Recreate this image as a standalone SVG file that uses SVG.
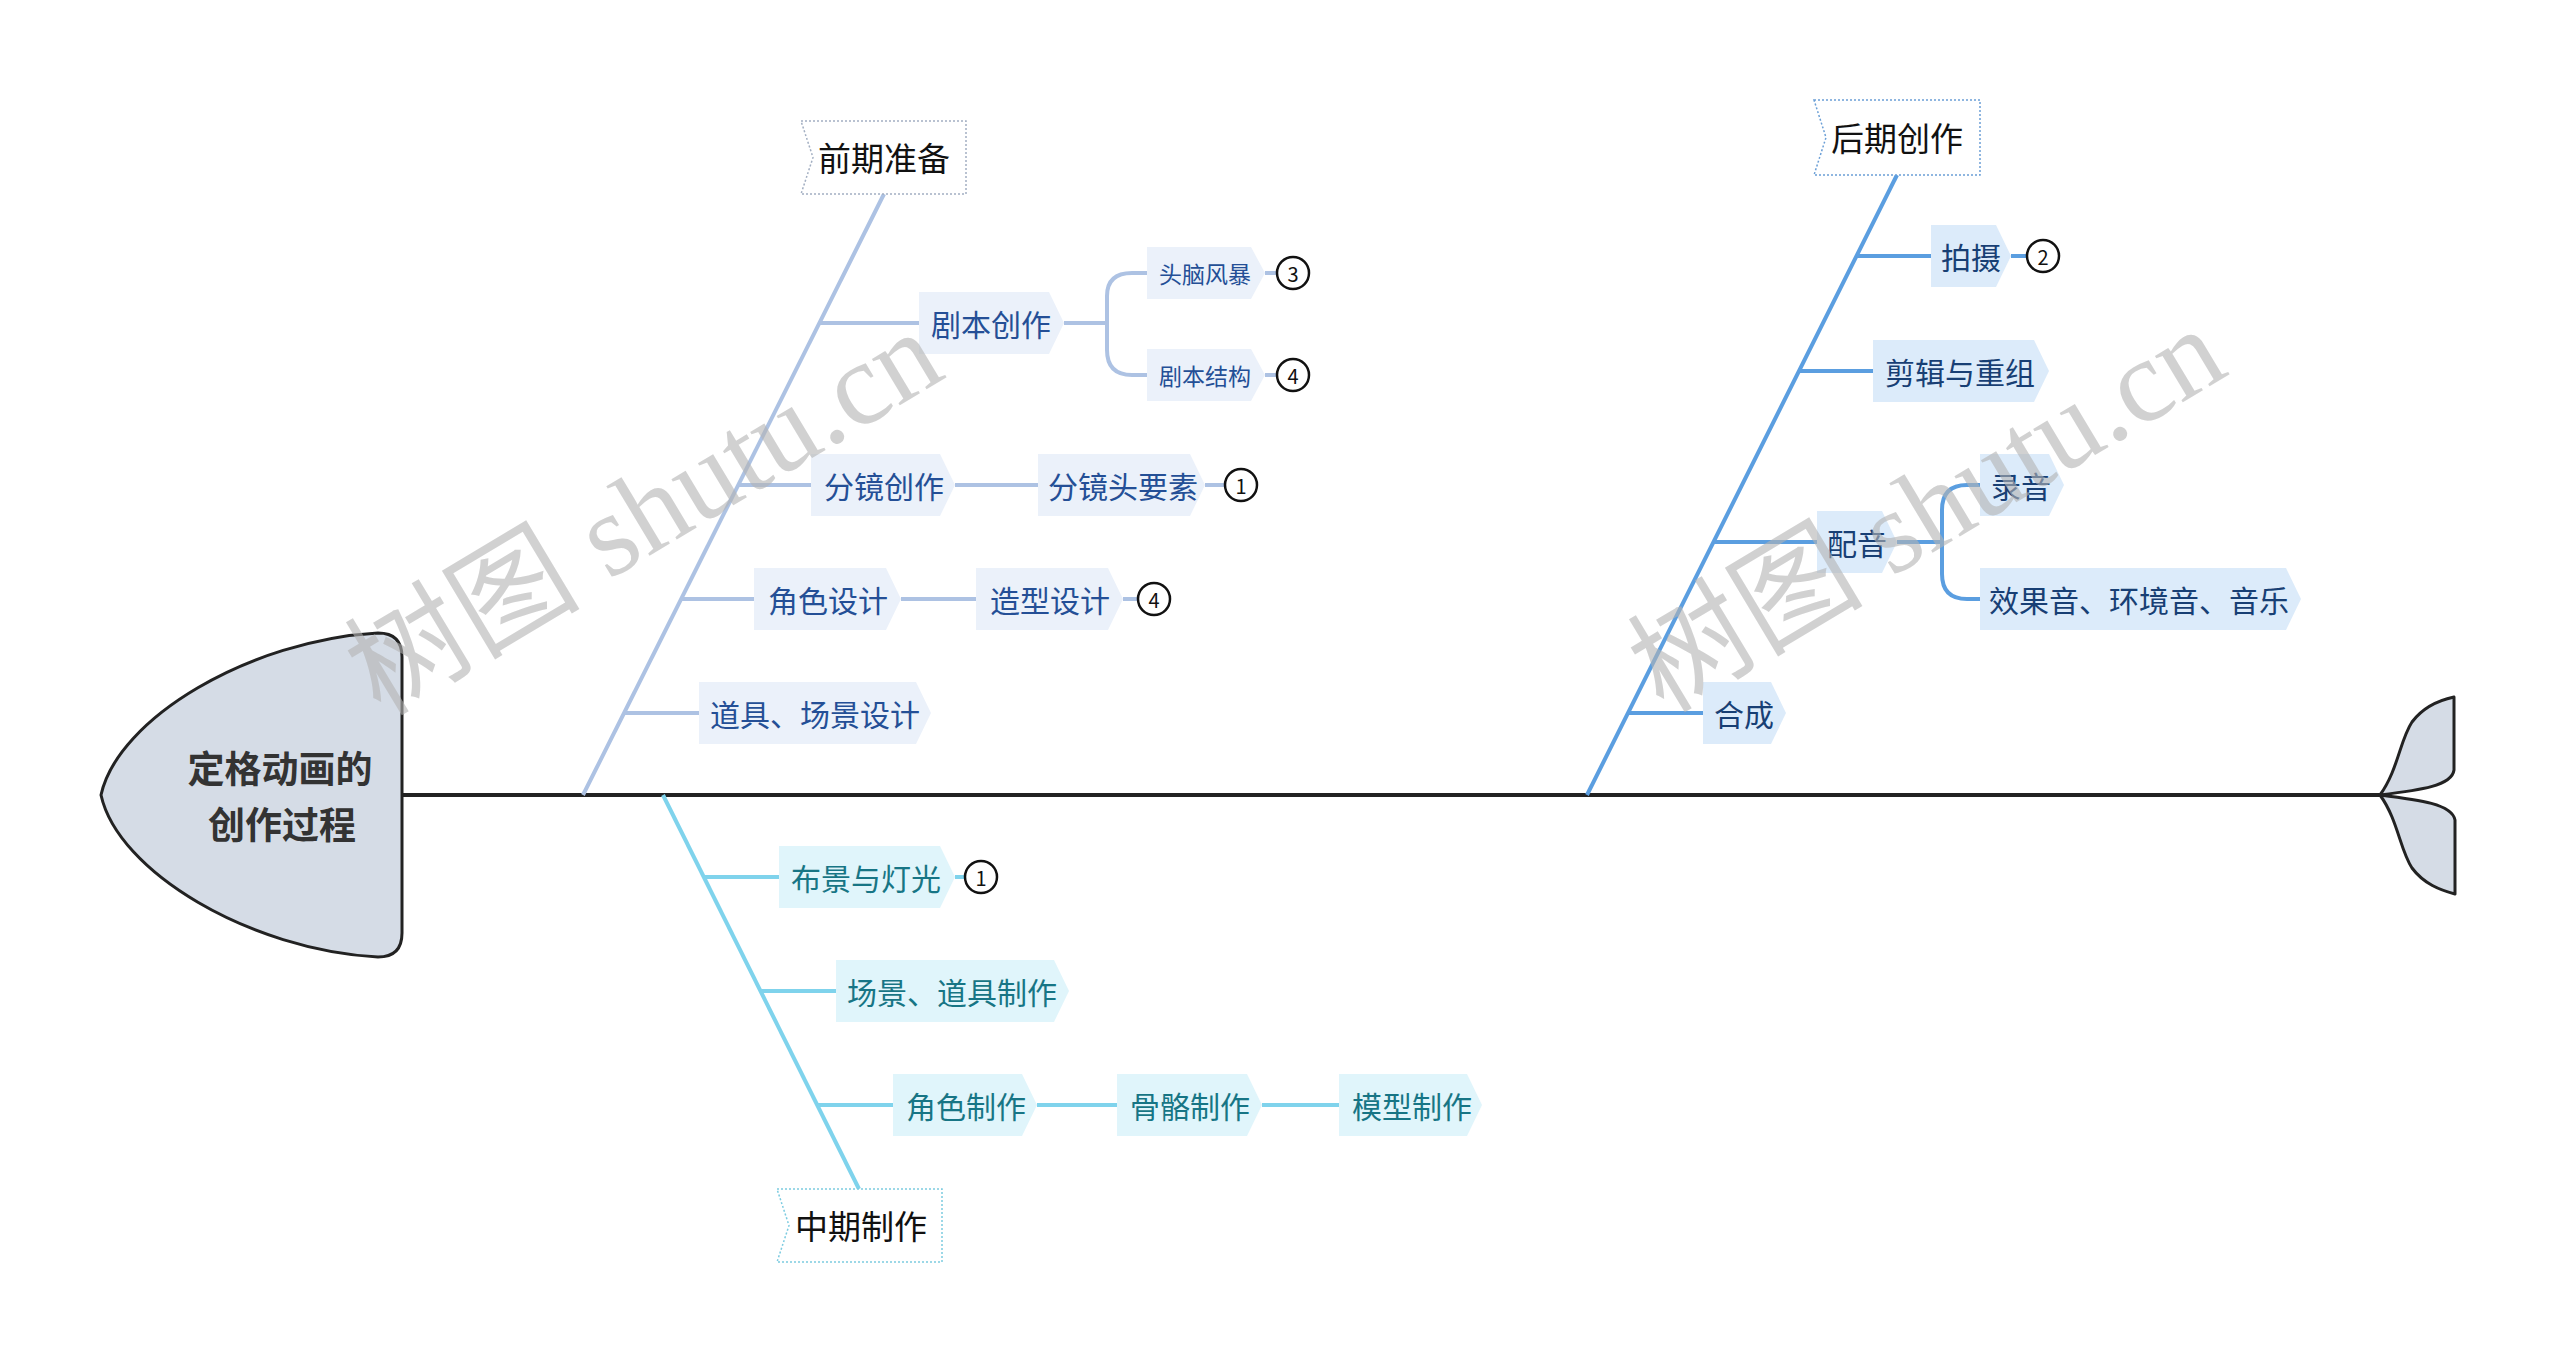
<svg xmlns="http://www.w3.org/2000/svg" width="2560" height="1364" viewBox="0 0 2560 1364">
<style>
text{font-family:"Noto Sans CJK SC","Noto Sans",sans-serif;dominant-baseline:central;text-anchor:middle}
.spine{stroke:#222;stroke-width:4;fill:none}
.fish{fill:#d5dce6;stroke:#222;stroke-width:3;stroke-linejoin:round}
.lA{stroke:#adc2e3;stroke-width:4;fill:none}
.lB{stroke:#7fd3ec;stroke-width:4;fill:none}
.lC{stroke:#5b9ee0;stroke-width:4;fill:none}
.bA{fill:#ebf1fa}
.bB{fill:#e0f5fb}
.bC{fill:#dcebfa}
.tA{fill:#244f96;font-size:30px}
.tB{fill:#177585;font-size:30px}
.tC{fill:#183f74;font-size:30px}
.sA{fill:#244f96;font-size:23px}
.lab{fill:#fff;stroke-width:1.5;stroke-dasharray:2 2}
.labT{fill:#111;font-size:33px}
.num circle{fill:#fff;stroke:#111;stroke-width:2.5}
.num text{fill:#111;font-size:20px}
.wm{fill:#b4b4b4;opacity:0.6;font-family:"Liberation Serif","Noto Sans CJK SC",serif;font-size:118px}
</style>

<g id="connectors">
  <line class="spine" x1="400" y1="795" x2="2382" y2="795"/>
  <!-- upper left -->
  <line class="lA" x1="583" y1="795" x2="884" y2="194" stroke-width="5"/>
  <line class="lA" x1="819" y1="323" x2="919" y2="323"/>
  <line class="lA" x1="1064" y1="323" x2="1107" y2="323"/>
  <path class="lA" d="M1107,323 V296 Q1107,273 1132,273 H1148 M1107,323 V350 Q1107,375 1132,375 H1148"/>
  <line class="lA" x1="1265" y1="273" x2="1277" y2="273"/>
  <line class="lA" x1="1265" y1="375" x2="1277" y2="375"/>
  <line class="lA" x1="738" y1="485" x2="811" y2="485"/>
  <line class="lA" x1="955" y1="485" x2="1038" y2="485"/>
  <line class="lA" x1="1205" y1="485" x2="1225" y2="485"/>
  <line class="lA" x1="681" y1="599" x2="754" y2="599"/>
  <line class="lA" x1="901" y1="599" x2="976" y2="599"/>
  <line class="lA" x1="1123" y1="599" x2="1138" y2="599"/>
  <line class="lA" x1="624" y1="713" x2="699" y2="713"/>
  <!-- lower -->
  <line class="lB" x1="663" y1="795" x2="859" y2="1189" stroke-width="5"/>
  <line class="lB" x1="704" y1="877" x2="779" y2="877"/>
  <line class="lB" x1="955" y1="877" x2="965" y2="877"/>
  <line class="lB" x1="760" y1="991" x2="836" y2="991"/>
  <line class="lB" x1="817" y1="1105" x2="893" y2="1105"/>
  <line class="lB" x1="1037" y1="1105" x2="1117" y2="1105"/>
  <line class="lB" x1="1262" y1="1105" x2="1339" y2="1105"/>
  <!-- upper right -->
  <line class="lC" x1="1587" y1="795" x2="1897" y2="175" stroke-width="5"/>
  <line class="lC" x1="1856" y1="256" x2="1931" y2="256"/>
  <line class="lC" x1="2011" y1="256" x2="2027" y2="256"/>
  <line class="lC" x1="1799" y1="371" x2="1873" y2="371"/>
  <line class="lC" x1="1713" y1="542" x2="1817" y2="542"/>
  <line class="lC" x1="1897" y1="542" x2="1942" y2="542"/>
  <path class="lC" d="M1942,542 V510 Q1942,485 1967,485 H1980 M1942,542 V574 Q1942,599 1967,599 H1980"/>
  <line class="lC" x1="1628" y1="713" x2="1703" y2="713"/>
</g>

<g id="head">
  <path class="fish" d="M378,633 Q402,633 402,657 L402,933 Q402,957 378,957 C250,950 118,872 101,795 C118,718 250,640 378,633 Z"/>
  <text x="280" y="767" style="font-size:37px;font-weight:bold;fill:#333">定格动画的</text>
  <text x="282" y="823" style="font-size:37px;font-weight:bold;fill:#333">创作过程</text>
</g>

<g id="tail">
  <path class="fish" d="M2380,795 C2398,770 2400,740 2412,722 C2424,706 2440,700 2454,697 L2454,770 C2452,786 2420,790 2380,795 Z"/>
  <path class="fish" d="M2380,795 C2398,820 2400,850 2412,868 C2424,884 2440,890 2455,894 L2455,820 C2452,804 2420,800 2380,795 Z"/>
</g>

<g id="n-qianqi">
  <path class="lab" stroke="#a3afc2" d="M801,121 H966 V194 H801 L813,157.5 Z"/>
  <text class="labT" x="884" y="157">前期准备</text>
</g>
<g id="n-juben">
  <path class="bA" d="M919,292 H1049 L1064,323 L1049,354 H919 Z"/>
  <text class="tA" x="991" y="323">剧本创作</text>
</g>
<g id="n-naofeng">
  <path class="bA" d="M1147,247 H1251 L1265,273 L1251,299 H1147 Z"/>
  <text class="sA" x="1205" y="273">头脑风暴</text>
  <g class="num"><circle cx="1293" cy="273" r="16"/><text x="1293" y="273">3</text></g>
</g>
<g id="n-jiegou">
  <path class="bA" d="M1147,349 H1251 L1265,375 L1251,401 H1147 Z"/>
  <text class="sA" x="1205" y="375">剧本结构</text>
  <g class="num"><circle cx="1293" cy="375" r="16"/><text x="1293" y="375">4</text></g>
</g>
<g id="n-fenjing">
  <path class="bA" d="M811,454 H940 L955,485 L940,516 H811 Z"/>
  <text class="tA" x="884" y="485">分镜创作</text>
</g>
<g id="n-fenjingtou">
  <path class="bA" d="M1038,454 H1190 L1205,485 L1190,516 H1038 Z"/>
  <text class="tA" x="1123" y="485">分镜头要素</text>
  <g class="num"><circle cx="1241" cy="485" r="16"/><text x="1241" y="485">1</text></g>
</g>
<g id="n-jiaose">
  <path class="bA" d="M754,568 H886 L901,599 L886,630 H754 Z"/>
  <text class="tA" x="828" y="599">角色设计</text>
</g>
<g id="n-zaoxing">
  <path class="bA" d="M976,568 H1108 L1123,599 L1108,630 H976 Z"/>
  <text class="tA" x="1050" y="599">造型设计</text>
  <g class="num"><circle cx="1154" cy="599" r="16"/><text x="1154" y="599">4</text></g>
</g>
<g id="n-daoju">
  <path class="bA" d="M699,682 H916 L931,713 L916,744 H699 Z"/>
  <text class="tA" x="815" y="713">道具、场景设计</text>
</g>

<g id="n-zhongqi">
  <path class="lab" stroke="#7ccbe0" d="M777,1189 H942 V1262 H777 L789,1225.5 Z"/>
  <text class="labT" x="861" y="1225">中期制作</text>
</g>
<g id="n-bujing">
  <path class="bB" d="M779,846 H940 L955,877 L940,908 H779 Z"/>
  <text class="tB" x="866" y="877">布景与灯光</text>
  <g class="num"><circle cx="981" cy="877" r="16"/><text x="981" y="877">1</text></g>
</g>
<g id="n-changjing">
  <path class="bB" d="M836,960 H1054 L1069,991 L1054,1022 H836 Z"/>
  <text class="tB" x="952" y="991">场景、道具制作</text>
</g>
<g id="n-jszz">
  <path class="bB" d="M893,1074 H1022 L1037,1105 L1022,1136 H893 Z"/>
  <text class="tB" x="966" y="1105">角色制作</text>
</g>
<g id="n-guge">
  <path class="bB" d="M1117,1074 H1247 L1262,1105 L1247,1136 H1117 Z"/>
  <text class="tB" x="1190" y="1105">骨骼制作</text>
</g>
<g id="n-moxing">
  <path class="bB" d="M1339,1074 H1467 L1482,1105 L1467,1136 H1339 Z"/>
  <text class="tB" x="1412" y="1105">模型制作</text>
</g>

<g id="n-houqi">
  <path class="lab" stroke="#6b9fd6" d="M1814,100 H1980 V175 H1814 L1826,137.5 Z"/>
  <text class="labT" x="1897" y="137">后期创作</text>
</g>
<g id="n-paishe">
  <path class="bC" d="M1931,225 H1996 L2011,256 L1996,287 H1931 Z"/>
  <text class="tC" x="1971" y="256">拍摄</text>
  <g class="num"><circle cx="2043" cy="256" r="16"/><text x="2043" y="256">2</text></g>
</g>
<g id="n-jianji">
  <path class="bC" d="M1873,340 H2034 L2049,371 L2034,402 H1873 Z"/>
  <text class="tC" x="1960" y="371">剪辑与重组</text>
</g>
<g id="n-peiyin">
  <path class="bC" d="M1817,511 H1882 L1897,542 L1882,573 H1817 Z"/>
  <text class="tC" x="1857" y="542">配音</text>
</g>
<g id="n-luyin">
  <path class="bC" d="M1980,454 H2049 L2064,485 L2049,516 H1980 Z"/>
  <text class="tC" x="2021" y="485">录音</text>
</g>
<g id="n-xiaoguo">
  <path class="bC" d="M1980,568 H2286 L2301,599 L2286,630 H1980 Z"/>
  <text class="tC" x="2139" y="599">效果音、环境音、音乐</text>
</g>
<g id="n-hecheng">
  <path class="bC" d="M1703,682 H1771 L1786,713 L1771,744 H1703 Z"/>
  <text class="tC" x="1744" y="713">合成</text>
</g>

<g id="watermark">
  <text class="wm" x="644" y="513" transform="rotate(-31 644 513)">树图 shutu.cn</text>
  <text class="wm" x="1927" y="510" transform="rotate(-31 1927 510)">树图 shutu.cn</text>
</g>
</svg>
